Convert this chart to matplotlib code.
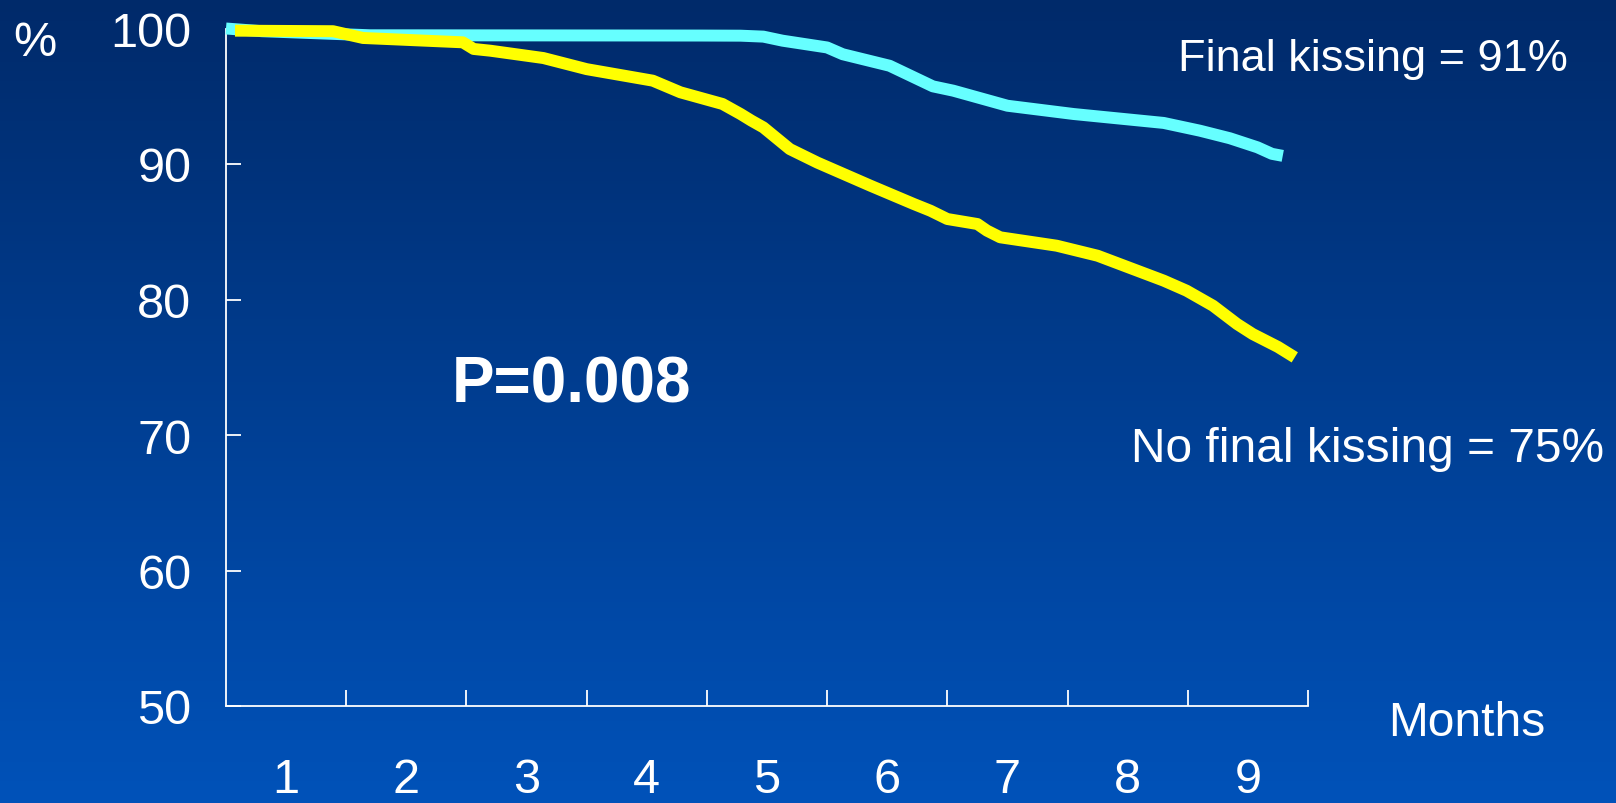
import numpy as np
import matplotlib
matplotlib.use("Agg")
import matplotlib.pyplot as plt

# ---- data ----
kiss_months = [0.0, 0.3, 0.9, 1.2, 3.94, 4.28, 4.47, 4.63, 5.0, 5.13, 5.52, 5.88,
               6.05, 6.5, 7.05, 7.8, 8.1, 8.35, 8.58, 8.7, 8.79]
kiss_surv = [100.0, 99.8, 99.6, 99.5, 99.48, 99.47, 99.4, 99.1, 98.6, 98.1, 97.25, 95.73,
             95.41, 94.3, 93.69, 93.03, 92.46, 91.9, 91.23, 90.75, 90.6]

nokiss_months = [0.075, 0.89, 1.14, 1.97, 2.06, 2.2, 2.64, 3.0, 3.55, 3.78, 4.13, 4.28,
                 4.37, 4.47, 4.69, 4.92, 5.36, 5.72, 5.86, 6.0, 6.25, 6.33, 6.44, 6.91,
                 7.25, 7.8, 7.99, 8.21, 8.41, 8.54, 8.75, 8.89]
nokiss_surv = [99.84, 99.8, 99.3, 98.98, 98.49, 98.36, 97.82, 97.0, 96.15, 95.29, 94.43, 93.69,
               93.2, 92.7, 91.1, 90.1, 88.4, 87.05, 86.55, 85.94, 85.57, 85.08, 84.59, 83.97,
               83.23, 81.39, 80.65, 79.54, 78.19, 77.45, 76.5, 75.73]

y_ticks = [50, 60, 70, 80, 90, 100]
y_labels = ["50", "60", "70", "80", "90", "100"]
x_ticks = [1, 2, 3, 4, 5, 6, 7, 8, 9]
month_labels = ["1", "2", "3", "4", "5", "6", "7", "8", "9"]
month_label_pos = [0.5, 1.5, 2.5, 3.5, 4.5, 5.5, 6.5, 7.5, 8.5]

plt.rcParams['font.family'] = ['Liberation Sans', 'DejaVu Sans']

W, H = 1616, 804
fig = plt.figure(figsize=(W / 100, H / 100), dpi=100)

# gradient background
bg = fig.add_axes([0, 0, 1, 1], zorder=-10)
top = np.array([0, 42, 106]) / 255.0
bot = np.array([1, 82, 185]) / 255.0
t = np.linspace(0, 1, 256)[:, None]
grad = top[None, :] * (1 - t) + bot[None, :] * t
bg.imshow(grad[:, None, :], aspect='auto', extent=[0, 1, 0, 1])
bg.axis('off')

left, right = 226 / W, 1308 / W
bottom, topp = 1 - 707 / H, 1 - 29.5 / H
ax = fig.add_axes([left, bottom, right - left, topp - bottom])
ax.patch.set_alpha(0)
ax.set_xlim(0, 9)
ax.set_ylim(50, 100)

for s in ['top', 'right']:
    ax.spines[s].set_visible(False)
for s in ['left', 'bottom']:
    ax.spines[s].set_color('white')
    ax.spines[s].set_linewidth(1.3)

lw = 8.6
ax.plot(kiss_months, kiss_surv, color='#66FFFF', lw=lw, solid_capstyle='butt',
        solid_joinstyle='round', clip_on=False, zorder=3)
ax.plot(nokiss_months, nokiss_surv, color='#FFFF00', lw=lw, solid_capstyle='butt',
        solid_joinstyle='round', clip_on=False, zorder=4)

# y axis
ax.set_yticks(y_ticks)
ax.set_yticklabels(y_labels)
ax.tick_params(axis='y', which='major', direction='in', length=11, width=1.3, color='white',
               pad=25, labelsize=35, labelcolor='white')

# x axis
ax.set_xticks(x_ticks)
ax.set_xticklabels([])
ax.set_xticks(month_label_pos, minor=True)
ax.set_xticklabels(month_labels, minor=True)
ax.tick_params(axis='x', which='major', direction='in', length=11.5, width=1.3, color='white')
ax.tick_params(axis='x', which='minor', length=0, pad=37, labelsize=35, labelcolor='white')

txt = dict(color='white', clip_on=False, va='baseline', ha='left')
ax.text(7.92, 96.96, "Final kissing = 91%", fontsize=32.5, **txt)
ax.text(7.53, 68.1, "No final kissing = 75%", fontsize=34.5, **txt)
ax.text(1.88, 72.46, "P=0.008", fontsize=46, fontweight='bold', **txt)
ax.text(9.67, 47.86, "Months", fontsize=34.5, **txt)
ax.text(-1.77, 98.04, "%", fontsize=35, **txt)

fig.savefig("out.png", dpi=100)
